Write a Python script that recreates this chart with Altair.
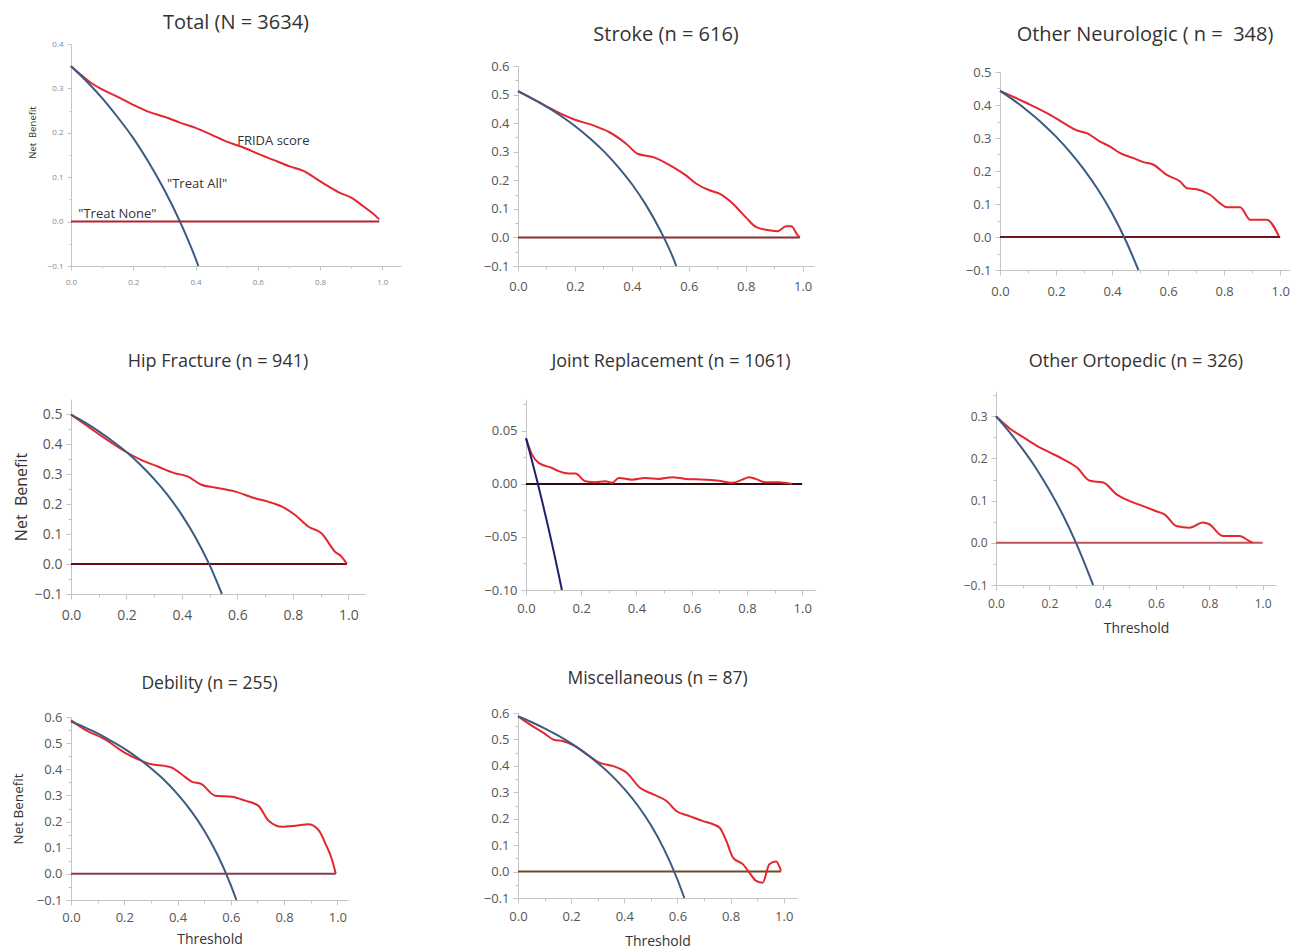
import altair as alt
import pandas as pd

FONT = "Open Sans"

# ---------------- data ----------------
# Total (N = 3634)
total_frida_t = [0.00, 0.03, 0.07, 0.10, 0.15, 0.20, 0.25, 0.30, 0.35, 0.40, 0.45, 0.50, 0.55, 0.60, 0.65, 0.70, 0.75, 0.78, 0.82, 0.86, 0.90, 0.94, 0.97, 0.99]
total_frida_nb = [0.350, 0.332, 0.310, 0.298, 0.281, 0.263, 0.247, 0.236, 0.223, 0.211, 0.196, 0.180, 0.168, 0.153, 0.139, 0.125, 0.113, 0.100, 0.082, 0.066, 0.054, 0.034, 0.018, 0.005]
total_all_t = [0.00, 0.05, 0.10, 0.15, 0.20, 0.25, 0.30, 0.35, 0.40, 0.409]
total_all_nb = [0.350, 0.316, 0.278, 0.235, 0.188, 0.133, 0.071, 0.000, -0.083, -0.100]
total_none_t = [0.0, 0.99]

# Stroke (n = 616)
stroke_frida_t = [0.00, 0.05, 0.10, 0.15, 0.20, 0.265, 0.32, 0.38, 0.42, 0.475, 0.545, 0.59, 0.627, 0.673, 0.708, 0.755, 0.80, 0.837, 0.883, 0.912, 0.942, 0.96, 0.983, 0.99]
stroke_frida_nb = [0.512, 0.486, 0.459, 0.433, 0.412, 0.392, 0.369, 0.328, 0.293, 0.281, 0.246, 0.217, 0.188, 0.165, 0.153, 0.118, 0.071, 0.036, 0.025, 0.022, 0.039, 0.039, 0.007, 0.0]
stroke_all_t = [0.00, 0.05, 0.10, 0.15, 0.20, 0.25, 0.30, 0.35, 0.40, 0.45, 0.50, 0.55, 0.556]
stroke_all_nb = [0.512, 0.486, 0.458, 0.426, 0.390, 0.349, 0.303, 0.249, 0.187, 0.113, 0.024, -0.084, -0.100]
stroke_none_t = [0.0, 0.99]

# Other Neurologic ( n =  348)
neuro_frida_t = [0.00, 0.095, 0.179, 0.238, 0.274, 0.31, 0.357, 0.393, 0.429, 0.476, 0.512, 0.548, 0.595, 0.643, 0.667, 0.702, 0.75, 0.786, 0.81, 0.857, 0.893, 0.952, 0.995]
neuro_frida_nb = [0.443, 0.406, 0.370, 0.340, 0.323, 0.315, 0.289, 0.274, 0.254, 0.239, 0.227, 0.219, 0.188, 0.168, 0.148, 0.145, 0.128, 0.102, 0.090, 0.090, 0.052, 0.052, 0.003]
neuro_all_t = [0.00, 0.05, 0.10, 0.15, 0.20, 0.25, 0.30, 0.35, 0.40, 0.45, 0.494]
neuro_all_nb = [0.443, 0.414, 0.381, 0.345, 0.304, 0.257, 0.204, 0.143, 0.072, -0.013, -0.100]
neuro_none_t = [0.0, 1.0]

# Hip Fracture (n = 941)
hip_frida_t = [0.00, 0.06, 0.12, 0.205, 0.253, 0.313, 0.373, 0.42, 0.47, 0.518, 0.59, 0.663, 0.71, 0.759, 0.807, 0.855, 0.904, 0.952, 0.976, 0.995]
hip_frida_nb = [0.498, 0.459, 0.420, 0.370, 0.347, 0.325, 0.303, 0.292, 0.264, 0.255, 0.242, 0.219, 0.208, 0.192, 0.164, 0.125, 0.102, 0.041, 0.024, 0.0]
hip_all_t = [0.00, 0.05, 0.10, 0.15, 0.20, 0.25, 0.30, 0.35, 0.40, 0.45, 0.50, 0.544]
hip_all_nb = [0.498, 0.472, 0.442, 0.409, 0.373, 0.331, 0.283, 0.228, 0.163, 0.087, -0.004, -0.100]
hip_none_t = [0.0, 0.995]

# Joint Replacement (n = 1061)
joint_frida_t = [0.0, 0.022, 0.046, 0.094, 0.118, 0.155, 0.179, 0.215, 0.251, 0.287, 0.312, 0.336, 0.384, 0.432, 0.481, 0.529, 0.577, 0.65, 0.698, 0.746, 0.783, 0.807, 0.831, 0.867, 0.915, 0.964]
joint_frida_nb = [0.043, 0.0276, 0.0198, 0.015, 0.012, 0.0097, 0.0097, 0.0025, 0.0016, 0.0025, 0.001, 0.0056, 0.004, 0.0056, 0.0047, 0.0063, 0.0047, 0.004, 0.003, 0.001, 0.004, 0.0063, 0.0047, 0.0016, 0.0016, 0.0]
joint_all_t = [0.00, 0.02, 0.04, 0.06, 0.08, 0.10, 0.12, 0.13]
joint_all_nb = [0.043, 0.0235, 0.0031, -0.0181, -0.0402, -0.0633, -0.0875, -0.100]
joint_none_t = [0.0, 1.0]

# Other Ortopedic (n = 326)
ortho_frida_t = [0.0, 0.054, 0.103, 0.153, 0.203, 0.253, 0.303, 0.352, 0.402, 0.452, 0.502, 0.552, 0.601, 0.633, 0.676, 0.726, 0.776, 0.80, 0.85, 0.913, 0.95, 0.963]
ortho_frida_nb = [0.300, 0.270, 0.250, 0.230, 0.214, 0.198, 0.179, 0.147, 0.143, 0.115, 0.099, 0.087, 0.075, 0.067, 0.040, 0.036, 0.048, 0.044, 0.016, 0.016, 0.004, 0.0]
ortho_all_t = [0.00, 0.05, 0.10, 0.15, 0.20, 0.25, 0.30, 0.35, 0.364]
ortho_all_nb = [0.300, 0.263, 0.222, 0.177, 0.125, 0.067, 0.000, -0.077, -0.100]
ortho_none_t = [0.0, 1.0]

# Debility (n = 255)
debil_frida_t = [0.0, 0.05, 0.126, 0.201, 0.252, 0.302, 0.352, 0.377, 0.415, 0.453, 0.49, 0.541, 0.604, 0.654, 0.704, 0.742, 0.792, 0.843, 0.893, 0.931, 0.956, 0.981, 0.994]
debil_frida_nb = [0.587, 0.553, 0.515, 0.464, 0.438, 0.419, 0.413, 0.407, 0.381, 0.353, 0.343, 0.299, 0.295, 0.280, 0.260, 0.203, 0.180, 0.184, 0.190, 0.165, 0.114, 0.051, 0.0]
debil_all_t = [0.00, 0.05, 0.10, 0.15, 0.20, 0.25, 0.30, 0.35, 0.40, 0.45, 0.50, 0.55, 0.60, 0.621]
debil_all_nb = [0.583, 0.561, 0.537, 0.509, 0.479, 0.444, 0.404, 0.359, 0.305, 0.242, 0.166, 0.073, -0.043, -0.100]
debil_none_t = [0.0, 0.994]

# Miscellaneous (n = 87)
misc_frida_t = [0.0, 0.046, 0.096, 0.134, 0.171, 0.209, 0.259, 0.309, 0.359, 0.409, 0.459, 0.509, 0.559, 0.596, 0.646, 0.696, 0.734, 0.759, 0.784, 0.809, 0.846, 0.871, 0.896, 0.921, 0.946, 0.971, 0.99]
misc_frida_nb = [0.587, 0.556, 0.525, 0.499, 0.493, 0.478, 0.443, 0.411, 0.399, 0.374, 0.317, 0.292, 0.267, 0.229, 0.210, 0.191, 0.179, 0.166, 0.116, 0.053, 0.028, -0.004, -0.035, -0.042, 0.028, 0.038, 0.003]
misc_all_t = [0.00, 0.05, 0.10, 0.15, 0.20, 0.25, 0.30, 0.35, 0.40, 0.45, 0.50, 0.55, 0.60, 0.626]
misc_all_nb = [0.588, 0.566, 0.542, 0.515, 0.485, 0.451, 0.411, 0.366, 0.313, 0.251, 0.176, 0.084, -0.030, -0.100]
misc_none_t = [0.0, 0.99]

# annotation labels in the Total panel
label_text = ["FRIDA score", "\"Treat All\"", "\"Treat None\""]
label_t = [0.65, 0.405, 0.149]
label_nb = [0.181, 0.084, 0.017]

# axis ticks: labelled (major) every 0.2 on x, with a minor tick between
x_ticks = [0.0, 0.1, 0.2, 0.3, 0.4, 0.5, 0.6, 0.7, 0.8, 0.9, 1.0]
y_ticks_04 = [-0.1, -0.05, 0.0, 0.05, 0.1, 0.15, 0.2, 0.25, 0.3, 0.35, 0.4]
y_ticks_05 = [-0.1, -0.05, 0.0, 0.05, 0.1, 0.15, 0.2, 0.25, 0.3, 0.35, 0.4, 0.45, 0.5]
y_ticks_06 = [-0.1, -0.05, 0.0, 0.05, 0.1, 0.15, 0.2, 0.25, 0.3, 0.35, 0.4, 0.45, 0.5, 0.55, 0.6]
y_ticks_03 = [-0.1, -0.05, 0.0, 0.05, 0.1, 0.15, 0.2, 0.25, 0.3, 0.35]
y_ticks_joint = [-0.1, -0.075, -0.05, -0.025, 0.0, 0.025, 0.05, 0.075]

RED = "#e3262f"
BLUE = "#3c5b80"
NET = "Net\u00a0 Benefit"
X_MINOR = "round(datum.value * 10) % 2 != 0"


def panel(title, ft, fnb, at, anb, nt, xmax, width, ymin, ymax, height, yticks,
          yfmt=".1f", ymult=20, title_size=18, title_offset=20,
          label_size=13, label_color="#555555", tick=5, xpad=8,
          ytitle=None, ytitle_size=12, yext=30, ytpad=8, ytitle_y=None,
          xtitle=None, xtitle_size=14, xtpad=10, none_color="#7a1a1a",
          blue=BLUE, annotate=False):
    df_f = pd.DataFrame({"t": ft, "nb": fnb})
    df_a = pd.DataFrame({"t": at, "nb": anb})
    df_n = pd.DataFrame({"t": nt, "nb": [0.0] * len(nt)})
    y_minor = "round(datum.value * %d) %% 2 != 0" % ymult
    minor = max(2, tick - 2)

    xaxis_kw = dict(values=x_ticks, format=".1f", grid=False, labelFlush=False,
                    labelExpr="(%s) ? '' : datum.label" % X_MINOR,
                    labelFont=FONT, labelFontSize=label_size, labelColor=label_color,
                    labelPadding=xpad,
                    tickSize={"condition": {"test": X_MINOR, "value": minor}, "value": tick},
                    tickColor="#c4c4c4", domainColor="#c4c4c4", labelOverlap=False)
    if xtitle:
        xaxis_kw.update(title=xtitle, titleFont=FONT, titleFontSize=xtitle_size,
                        titleFontWeight="normal", titleColor="#333333",
                        titlePadding=xtpad)
    else:
        xaxis_kw.update(title=None)
    yaxis_kw = dict(values=yticks, format=yfmt, grid=False, labelFont=FONT,
                    labelExpr="(%s) ? '' : datum.label" % y_minor,
                    labelFontSize=label_size, labelColor=label_color,
                    labelPadding=4,
                    tickSize={"condition": {"test": y_minor, "value": minor}, "value": tick},
                    tickColor="#c4c4c4", domainColor="#c4c4c4", labelOverlap=False,
                    minExtent=yext, maxExtent=yext)
    if ytitle:
        yaxis_kw.update(title=ytitle, titleFont=FONT, titleFontSize=ytitle_size,
                        titleFontWeight="normal", titleColor="#333333",
                        titlePadding=ytpad)
        if ytitle_y is not None:
            yaxis_kw.update(titleY=ytitle_y)
    else:
        yaxis_kw.update(title=None)

    x = alt.X("t:Q", scale=alt.Scale(domain=[0, xmax], nice=False, zero=False),
              axis=alt.Axis(**xaxis_kw))
    y = alt.Y("nb:Q", scale=alt.Scale(domain=[ymin, ymax], nice=False, zero=False),
              axis=alt.Axis(**yaxis_kw))

    none_line = alt.Chart(df_n).mark_line(color=none_color, strokeWidth=2).encode(x=x, y=y)
    frida_line = alt.Chart(df_f).mark_line(color=RED, strokeWidth=2,
                                           interpolate="monotone").encode(x=x, y=y)
    all_line = alt.Chart(df_a).mark_line(color=blue, strokeWidth=2,
                                         interpolate="monotone").encode(x=x, y=y)
    layers = [none_line, frida_line, all_line]
    if annotate:
        df_l = pd.DataFrame({"t": label_t, "nb": label_nb, "label": label_text})
        layers.append(
            alt.Chart(df_l).mark_text(font=FONT, fontSize=13, color="#333333",
                                      align="center", baseline="middle")
            .encode(x=x, y=y, text="label:N"))

    tparams = alt.TitleParams(text=title, font=FONT, fontSize=title_size,
                              fontWeight="normal", color="#333333",
                              offset=title_offset, frame="group", anchor="middle")
    return alt.layer(*layers).properties(width=width, height=height, title=tparams)


def spacer(h):
    # invisible block that only reserves vertical room above a panel
    return (alt.Chart(pd.DataFrame({"v": [0]}))
            .mark_point(size=0, opacity=0, strokeWidth=0)
            .encode(x=alt.value(0), y=alt.value(0))
            .properties(width=1, height=h))


def wrap(p, h):
    return alt.vconcat(spacer(h), p, spacing=0)


p1 = panel("Total (N = 3634)", total_frida_t, total_frida_nb, total_all_t, total_all_nb,
           total_none_t, 1.06, 330, -0.1, 0.4, 222, y_ticks_04,
           title_size=20, title_offset=7, label_size=8, label_color="#8a8a8a", tick=4,
           xpad=8, ytitle=NET, ytitle_size=9.5, yext=24, ytpad=10, ytitle_y=88,
           none_color="#b3232e", annotate=True)
p2 = panel("Stroke (n = 616)", stroke_frida_t, stroke_frida_nb, stroke_all_t, stroke_all_nb,
           stroke_none_t, 1.04, 296, -0.1, 0.6, 200, y_ticks_06,
           title_size=20, title_offset=15.5, xpad=9, none_color="#8c2a2e")
p3 = panel("Other Neurologic ( n =\u00a0 348)", neuro_frida_t, neuro_frida_nb, neuro_all_t,
           neuro_all_nb, neuro_none_t, 1.035, 290, -0.1, 0.5, 198, y_ticks_05,
           title_size=20, title_offset=21.5, xpad=10, none_color="#6e1518")
p4 = panel("Hip Fracture (n = 941)", hip_frida_t, hip_frida_nb, hip_all_t, hip_all_nb,
           hip_none_t, 1.06, 294, -0.1, 0.55, 195, y_ticks_05,
           title_offset=28, label_size=14, xpad=9, ytitle=NET,
           ytitle_size=16, yext=36, ytpad=6, none_color="#6a1010")
p5 = panel("Joint Replacement (n = 1061)", joint_frida_t, joint_frida_nb, joint_all_t,
           joint_all_nb, joint_none_t, 1.05, 290, -0.1, 0.08, 191, y_ticks_joint,
           yfmt=".2f", ymult=40, title_offset=27, xpad=7,
           none_color="#2a0c12", blue="#1d216e")
p6 = panel("Other Ortopedic (n = 326)", ortho_frida_t, ortho_frida_nb, ortho_all_t,
           ortho_all_nb, ortho_none_t, 1.05, 280, -0.1, 0.36, 194, y_ticks_03,
           title_offset=18, label_size=12, xpad=8,
           xtitle="Threshold", xtitle_size=14, xtpad=12, none_color="#c0505a")
p7 = panel("Debility (n = 255)", debil_frida_t, debil_frida_nb, debil_all_t, debil_all_nb,
           debil_none_t, 1.04, 277, -0.1, 0.6, 183, y_ticks_06,
           title_size=17.5, title_offset=19, xpad=6, ytitle="Net Benefit",
           ytitle_size=13.5, yext=34, ytpad=12, xtitle="Threshold", xtitle_size=14,
           xtpad=8, none_color="#8a3a55")
p8 = panel("Miscellaneous (n = 87)", misc_frida_t, misc_frida_nb, misc_all_t, misc_all_nb,
           misc_none_t, 1.05, 279, -0.1, 0.6, 185, y_ticks_06,
           title_size=17.5, title_offset=20, xpad=7, xtitle="Threshold", xtitle_size=14,
           xtpad=11, none_color="#6b4a2a")

row1 = alt.hconcat(alt.hconcat(wrap(p1, 1), wrap(p2, 12), spacing=82), wrap(p3, 12), spacing=151)
row2 = alt.hconcat(alt.hconcat(wrap(p4, 1), wrap(p5, 1), spacing=118), wrap(p6, 1), spacing=147)
row3 = alt.hconcat(wrap(p7, 6), wrap(p8, 1), spacing=135)

chart = alt.vconcat(alt.vconcat(row1, row2, spacing=54), row3, spacing=33).properties(
    padding={"left": 11, "top": 12, "right": 0, "bottom": 0},
    background="white",
).configure_view(strokeWidth=0)

chart.save("out.html", embed_options={"renderer": "svg", "actions": False})
